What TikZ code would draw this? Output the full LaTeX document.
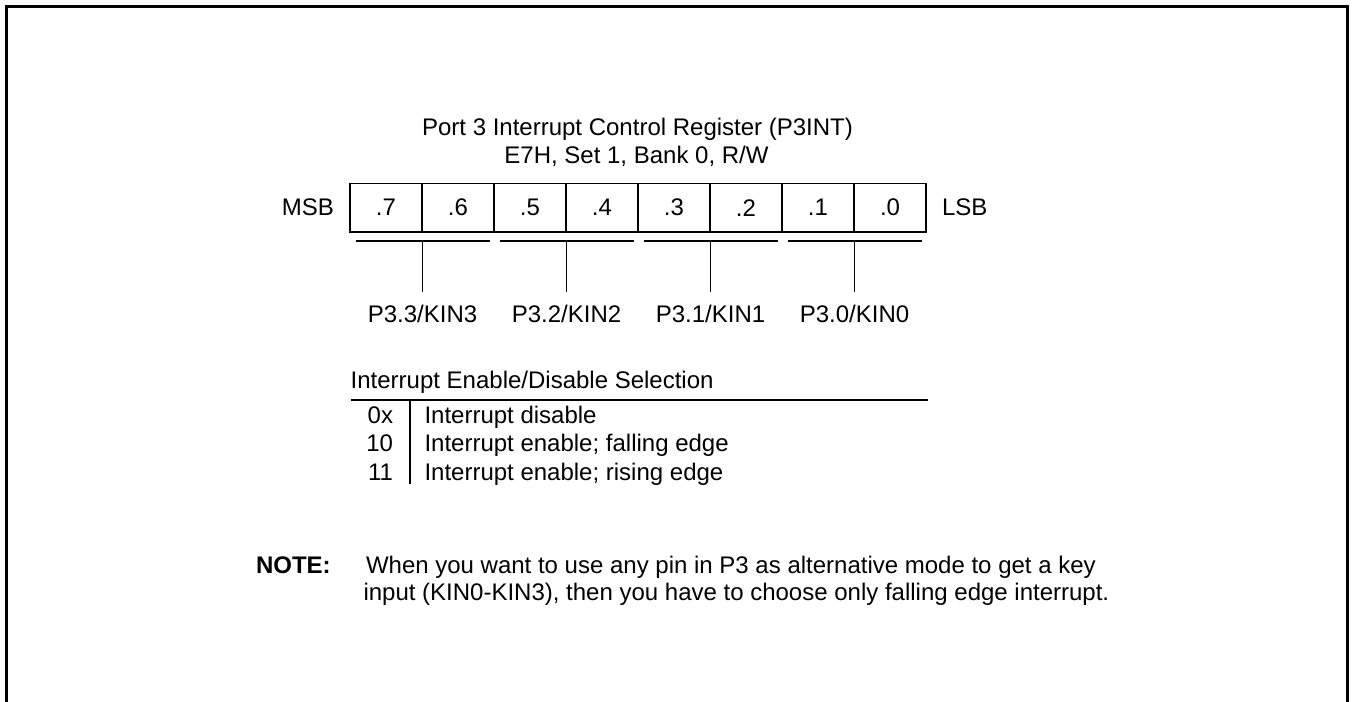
\documentclass[tikz,border=0pt]{standalone}
\usepackage{fontspec}
\setmainfont{Liberation Sans}
\begin{document}
\begin{tikzpicture}[x=0.75pt,y=-0.75pt,
  every node/.style={inner sep=0pt, outer sep=0pt, font=\fontsize{18}{21.6}\selectfont},
  cell/.style={draw, line width=1pt, minimum width=54pt, minimum height=36.6pt, anchor=center},
  ln/.style={line width=1pt},
  frame/.style={line width=1.6pt},
  txt/.style={anchor=base},
  txtl/.style={anchor=base west},
  txtr/.style={anchor=base east}]
\useasboundingbox (0,0) rectangle (1354,702);
% outer frame (open at the bottom)
\coordinate (fbl) at (6.5,702);
\coordinate (ftl) at (6.5,6.5);
\coordinate (ftr) at (1347.5,6.5);
\coordinate (fbr) at (1347.5,702);
\draw[frame] (fbl) -- (ftl) -- (ftr) -- (fbr);

% title
\node[txt] (t1) at (637.5,136) {Port 3 Interrupt Control Register (P3INT)};
\node[txt] (t2) at (636.5,163.5) {E7H, Set 1, Bank 0, R/W};

% register cells
\foreach \i/\x in {7/386,6/458,5/530,4/602,3/674,2/746,1/818,0/890}
  \node[cell] (c\i) at (\x,207.7) {.\i};
\node[txtr] (msb) at (334,216) {MSB};
\node[txtl] (lsb) at (942,216) {LSB};

% brackets and leads
\foreach \k/\m/\lab in {3/422.5/P3.3/KIN3,2/566.5/P3.2/KIN2,1/710.5/P3.1/KIN1,0/854.5/P3.0/KIN0}{
  \coordinate (bl\k) at (\m-66.5,241);
  \coordinate (br\k) at (\m+67,241);
  \coordinate (bm\k) at (\m,241);
  \coordinate (be\k) at (\m,292);
  \draw[ln] (bl\k) -- (br\k);
  \draw[ln] (bm\k) -- (be\k);
}
\node[txt] (l3) at (422.5,322.7) {P3.3/KIN3};
\node[txt] (l2) at (566.5,322.7) {P3.2/KIN2};
\node[txt] (l1) at (710.5,322.7) {P3.1/KIN1};
\node[txt] (l0) at (854.5,322.7) {P3.0/KIN0};

% selection table
\node[txtl] (hdr) at (350.7,389) {Interrupt Enable/Disable Selection};
\coordinate (hl) at (350.5,400);
\coordinate (hr) at (927.5,400);
\coordinate (vt) at (410,400);
\coordinate (vb) at (410,484);
\draw[ln] (hl) -- (hr);
\draw[ln] (vt) -- (vb);
\node[txtr] (k0) at (393,423) {0x};
\node[txtr] (k1) at (393,451.7) {10};
\node[txtr] (k2) at (393,480.5) {11};
\node[txtl] (d0) at (424.5,423) {Interrupt disable};
\node[txtl] (d1) at (424.5,451.7) {Interrupt enable; falling edge};
\node[txtl] (d2) at (424.5,480.5) {Interrupt enable; rising edge};

% note
\node[txtl, font=\fontsize{18}{21.6}\selectfont\bfseries] (note) at (256,573) {NOTE:};
\node[txtl] (n1) at (366,573) {When you want to use any pin in P3 as alternative mode to get a key};
\node[txtl] (n2) at (363.5,600) {input (KIN0-KIN3), then you have to choose only falling edge interrupt.};
\end{tikzpicture}
\end{document}
